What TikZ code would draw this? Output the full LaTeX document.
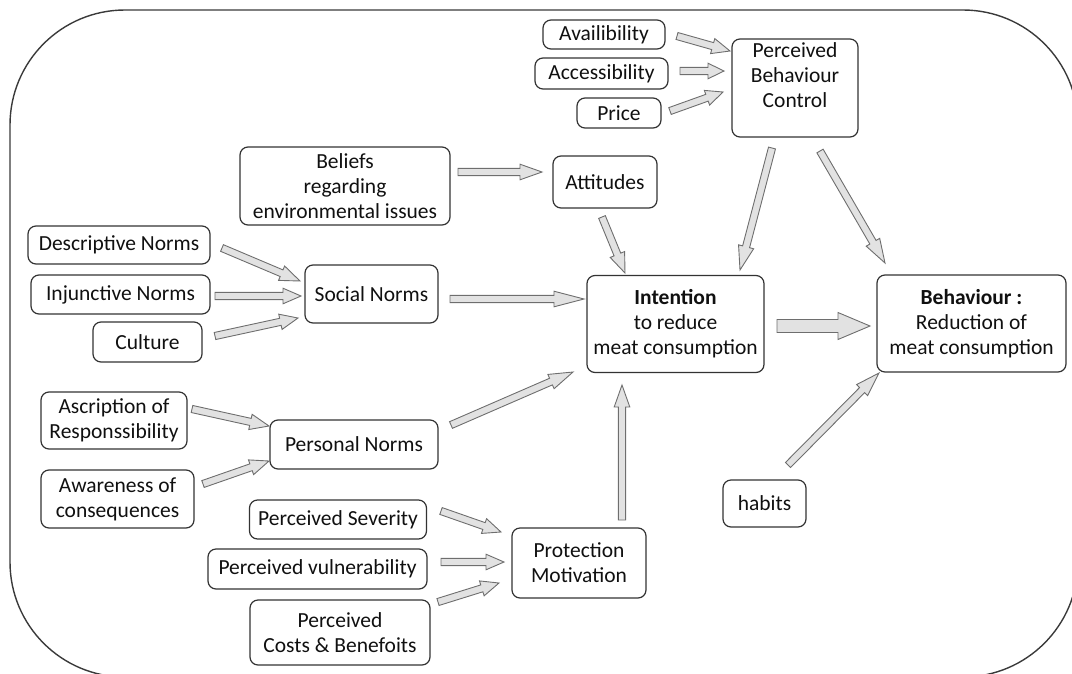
\documentclass[tikz,border=0pt]{standalone}
\usepackage{fontspec}
\setmainfont{Carlito}
\usetikzlibrary{calc}

\definecolor{framecol}{HTML}{3A3A3A}
\definecolor{boxline}{HTML}{333333}
\definecolor{arrowfill}{HTML}{E2E2E2}
\definecolor{arrowline}{HTML}{6E6E6E}
\definecolor{txt}{HTML}{101010}

\tikzset{
  x=1pt, y=-1pt,
  box/.style 2 args={draw=boxline, line width=1.2pt, rounded corners=8pt,
    minimum width=#1pt, minimum height=#2pt, inner sep=0pt, align=center,
    text=txt, font=\fontsize{21.5}{25}\selectfont},
  label text/.style={inner sep=0pt, align=center, text=txt,
    font=\fontsize{21.5}{25}\selectfont},
  blockarrow/.style={draw=arrowline, fill=arrowfill, line width=0.9pt, line join=miter},
}

\makeatletter
% block arrow from coordinate #1 to coordinate #2:
% #3 shaft half width, #4 head half width, #5 head length (all in pt)
\newcommand\blockarrowgen[5]{%
  \path (#1); \pgfgetlastxy{\ba@ax}{\ba@ay}%
  \path (#2); \pgfgetlastxy{\ba@bx}{\ba@by}%
  \pgfmathsetmacro\ba@ang{atan2(\ba@by-\ba@ay,\ba@bx-\ba@ax)}%
  \pgfmathsetmacro\ba@len{veclen(\ba@bx-\ba@ax,\ba@by-\ba@ay)}%
  \pgfmathsetmacro\ba@neck{\ba@len-#5}%
  \begin{scope}[shift={(\ba@ax,\ba@ay)}, rotate=\ba@ang]
    \draw[blockarrow] (0pt,-#3pt) -- (\ba@neck pt,-#3pt) -- (\ba@neck pt,-#4pt)
      -- (\ba@len pt,0pt) -- (\ba@neck pt,#4pt) -- (\ba@neck pt,#3pt) -- (0pt,#3pt) -- cycle;
  \end{scope}}
\makeatother
\newcommand\barrow[3][18]{\blockarrowgen{#2}{#3}{3.6}{7.8}{#1}}

\begin{document}
\begin{tikzpicture}
\useasboundingbox (0,0) rectangle (1072,673);

% outer frame
\begin{scope}
  \clip (0,0) rectangle (1072,673);
  \draw[framecol, line width=1.4pt, rounded corners=115pt] (10,10) rectangle (1078,677);
\end{scope}

% boxes
\node[box={122}{29}] (avail)  at (604,34.5)  {Availibility};
\node[box={133}{31}] (access) at (601.5,73.5) {Accessibility};
\node[box={84}{30}]  (price)  at (619,113)   {Price};
\node[box={126}{98}] (pbc)    at (795,88)    {};
\node[label text]    (pbc-t)  at (795,75)    {Perceived\\Behaviour\\Control};

\node[box={210}{78}] (beliefs) at (345,186)  {Beliefs\\regarding\\environmental issues};
\node[box={104}{52}] (att)     at (605,182)  {Attitudes};

\node[box={182}{38}] (desc)   at (119,245)   {Descriptive Norms};
\node[box={179}{39}] (inj)    at (120.5,294.5) {Injunctive Norms};
\node[box={109}{40}] (cult)   at (147.5,342) {Culture};
\node[box={133}{58}] (social) at (371.5,294) {Social Norms};

\node[box={177}{97}] (int)    at (675.5,324) {\textbf{Intention}\\to reduce\\meat consumption};
\node[box={189}{97}] (beh)    at (971.5,323.5) {\textbf{Behaviour :}\\Reduction of\\meat consumption};

\node[box={146}{57}] (ascr)   at (114,420.5) {Ascription of\\Responssibility};
\node[box={153}{58}] (aware)  at (117.5,499) {Awareness of\\consequences};
\node[box={168}{49}] (pers)   at (354,444.5) {Personal Norms};

\node[box={177}{39}] (sev)    at (338,519.5) {Perceived Severity};
\node[box={219}{40}] (vul)    at (317.5,569) {Perceived vulnerability};
\node[box={180}{65}] (cost)   at (340,632.5) {Perceived\\Costs \& Benefoits};
\node[box={134}{70}] (prot)   at (579,563)   {Protection\\Motivation};

\node[box={83}{47}]  (hab)    at (764.5,503.5) {habits};

% arrow end points
\coordinate (avail-o)  at (677,36);   \coordinate (pbc-i1) at (730,51);
\coordinate (access-o) at (680,71);   \coordinate (pbc-i2) at (724,71);
\coordinate (price-o)  at (670,111);  \coordinate (pbc-i3) at (723,92);
\coordinate (beliefs-o) at (458,172); \coordinate (att-i)  at (542,172);
\coordinate (att-o)    at (602,217);  \coordinate (int-i1) at (625,273);
\coordinate (pbc-o1)   at (772,148);  \coordinate (int-i2) at (740,270);
\coordinate (pbc-o2)   at (820,151);  \coordinate (beh-i1) at (885,263);
\coordinate (desc-o)   at (222,248);  \coordinate (soc-i1) at (300,281);
\coordinate (inj-o)    at (215,296);  \coordinate (soc-i2) at (301,296);
\coordinate (cult-o)   at (215,336);  \coordinate (soc-i3) at (298,318);
\coordinate (social-o) at (450,299);  \coordinate (int-i3) at (584,299);
\coordinate (int-o)    at (777,326);  \coordinate (beh-i2) at (870,326);
\coordinate (ascr-o)   at (192,409);  \coordinate (pers-i1) at (269,426);
\coordinate (aware-o)  at (203,484);  \coordinate (pers-i2) at (269,461);
\coordinate (pers-o)   at (451,425);  \coordinate (int-i4) at (573,372);
\coordinate (sev-o)    at (441,511);  \coordinate (prot-i1) at (501,532);
\coordinate (vul-o)    at (441,562);  \coordinate (prot-i2) at (504,562);
\coordinate (cost-o)   at (438,602);  \coordinate (prot-i3) at (499,583);
\coordinate (prot-o)   at (622,520);  \coordinate (int-i5) at (622,385);
\coordinate (hab-o)    at (788,465);  \coordinate (beh-i3) at (879,373);

% connectors
\barrow[18]{avail-o}{pbc-i1}
\barrow[16]{access-o}{pbc-i2}
\barrow[17]{price-o}{pbc-i3}
\barrow[22]{beliefs-o}{att-i}
\barrow[20]{att-o}{int-i1}
\barrow[24]{pbc-o1}{int-i2}
\barrow[24]{pbc-o2}{beh-i1}
\barrow[20]{desc-o}{soc-i1}
\barrow[18]{inj-o}{soc-i2}
\barrow[18]{cult-o}{soc-i3}
\barrow[30]{social-o}{int-i3}
\blockarrowgen{int-o}{beh-i2}{6.5}{13.5}{32}
\barrow[19]{ascr-o}{pers-i1}
\barrow[19]{aware-o}{pers-i2}
\barrow[24]{pers-o}{int-i4}
\barrow[18]{sev-o}{prot-i1}
\barrow[18]{vul-o}{prot-i2}
\barrow[18]{cost-o}{prot-i3}
\barrow[22]{prot-o}{int-i5}
\barrow[24]{hab-o}{beh-i3}
\end{tikzpicture}
\end{document}
